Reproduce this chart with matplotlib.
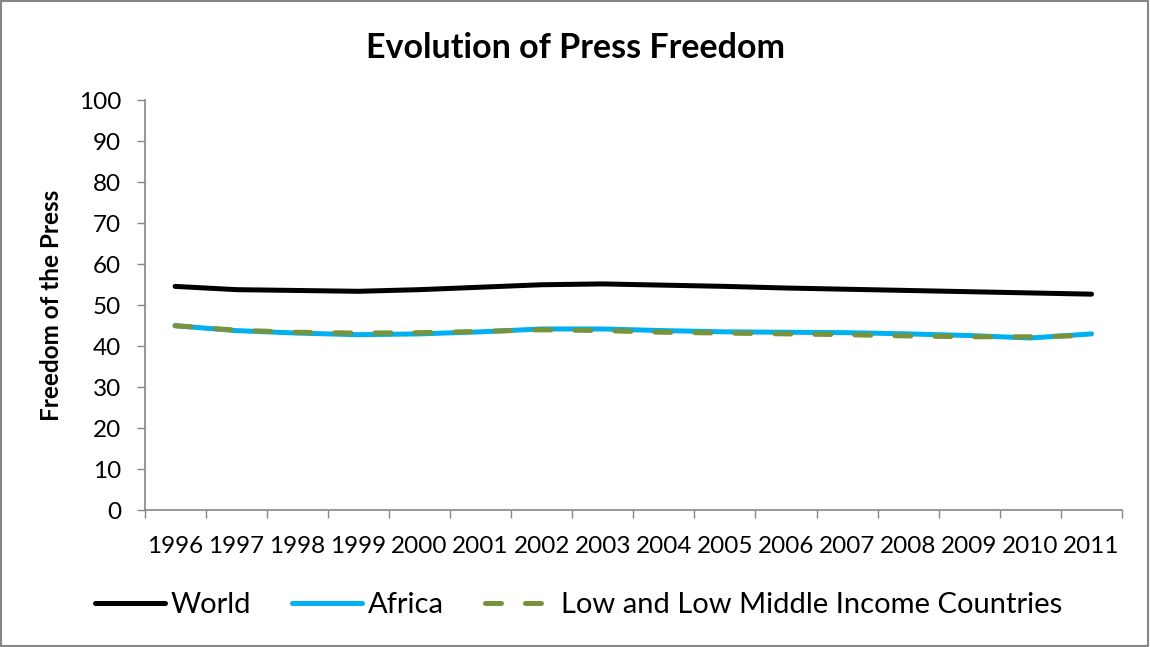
import matplotlib
matplotlib.use("Agg")
import matplotlib.pyplot as plt
import numpy as np
from matplotlib.patches import Rectangle

years = [str(y) for y in range(1996, 2012)]
world = [54.6, 53.8, 53.6, 53.4, 53.8, 54.4, 55.0, 55.2,
         54.9, 54.6, 54.2, 53.9, 53.6, 53.3, 53.0, 52.7]
africa = [45.0, 43.8, 43.2, 42.8, 43.0, 43.5, 44.2, 44.2,
          43.8, 43.5, 43.4, 43.3, 43.0, 42.6, 42.0, 43.0]
low_income = [45.0, 43.9, 43.4, 43.2, 43.3, 43.6, 44.0, 43.8,
              43.4, 43.2, 43.0, 42.8, 42.5, 42.3, 42.3, 42.6]

plt.rcParams['font.family'] = ['Lato', 'DejaVu Sans']
axis_grey = '#868686'

fig = plt.figure(figsize=(11.5, 6.47), dpi=100)
ax = fig.add_axes([0.1257, 0.2117, 0.8500, 0.6331])

x = np.arange(len(years))
ax.plot(x, world, color='black', lw=3.6, solid_capstyle='round', label='World')
ax.plot(x, africa, color='#00B0F0', lw=3.6, solid_capstyle='round', label='Africa')
ax.plot(x, low_income, color='#77933C', lw=3.6, dashes=(3.2, 4.8),
        dash_capstyle='round', label='Low and Low Middle Income Countries')

ax.set_xlim(-0.5, len(years) - 0.5)
ax.set_ylim(0, 100)
ax.set_yticks(range(0, 101, 10))

# tick marks sit between categories, labels in the middle
ax.set_xticks(np.arange(-0.5, len(years), 1.0))
ax.set_xticklabels([])
ax.set_xticks(x, minor=True)
ax.set_xticklabels(years, minor=True)
ax.tick_params(axis='x', which='major', direction='out', length=6, width=1, color=axis_grey)
ax.tick_params(axis='x', which='minor', length=0, pad=19, labelsize=17.5)
ax.tick_params(axis='y', direction='out', length=6, width=1, color=axis_grey,
               pad=11, labelsize=17.5)

for side in ['top', 'right']:
    ax.spines[side].set_visible(False)
for side in ['left', 'bottom']:
    ax.spines[side].set_color(axis_grey)
    ax.spines[side].set_linewidth(1.2)

ax.set_ylabel('Freedom of the Press', fontsize=17.5, fontweight='bold')
ax.yaxis.set_label_coords(-0.083, 0.5)

fig.text(0.5, 0.926, 'Evolution of Press Freedom', ha='center', va='center',
         fontsize=24.5, fontweight='bold')

fig.legend(loc='center', bbox_to_anchor=(0.503, 0.065), ncol=3, frameon=False,
           fontsize=21, handlelength=2.4, handletextpad=0.2, columnspacing=1.4)

# outer chart border
fig.patches.append(Rectangle((0.001, 0.001), 0.997, 0.997, transform=fig.transFigure,
                             fill=False, edgecolor=axis_grey, lw=1.5))

fig.savefig('out.png', dpi=100)
